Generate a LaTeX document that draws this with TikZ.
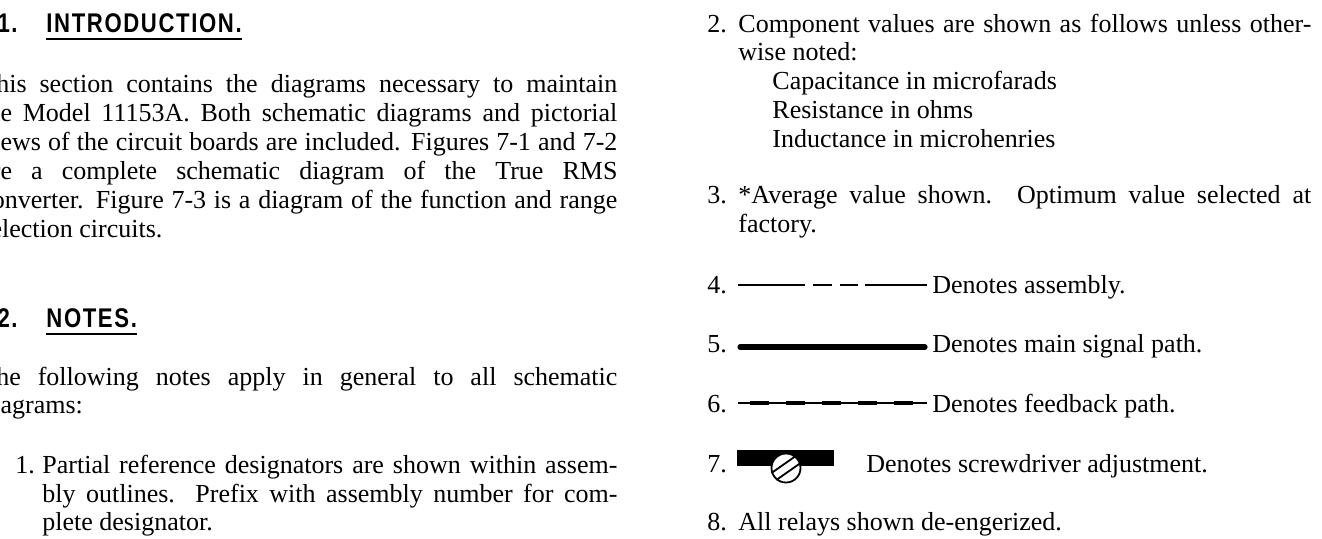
\documentclass[tikz,border=0pt]{standalone}
\usepackage{fontspec}
\setmainfont{Liberation Serif}
\newfontfamily\headfont[FakeStretch=0.82,LetterSpace=6]{Liberation Sans}
\usetikzlibrary{positioning}

\tikzstyle{txt} = [anchor=base west, inner sep=0pt, font=\fontsize{13pt}{14.5pt}\selectfont]
\tikzstyle{head} = [anchor=base west, inner sep=0pt, font=\headfont\fontsize{13.5pt}{16pt}\selectfont\bfseries]
\tikzstyle{uline} = [line width=1pt]
\tikzstyle{asmline} = [line width=1.2pt, dash pattern=on 33.5pt off 4pt on 9.5pt off 4pt on 9pt off 3.5pt on 31pt]
\tikzstyle{mainline} = [line width=2.6pt, line cap=round]
\tikzstyle{fbthin} = [line width=0.6pt]
\tikzstyle{fbdash} = [line width=1.7pt, dash pattern=on 9.5pt off 8.5pt]
\tikzstyle{screw} = [draw, circle, fill=white, line width=0.9pt, minimum size=14.5pt, inner sep=0pt]
\tikzstyle{slot} = [line width=0.9pt]
% one justified line of a paragraph
\newcommand{\jline}[2]{\makebox[#1][s]{#2}}

\begin{document}
\begin{tikzpicture}[x=0.5pt, y=-0.5pt]
\useasboundingbox (0,0) rectangle (1322,538);
\clip (0,0) rectangle (1322,538);

% Left column, first the introduction
\node [head] (introhead) at (46,32) {INTRODUCTION.};
\node [head, anchor=base east] (intronum) at (18,32) {7-1.};
\draw [uline] ([yshift=-3.5pt]introhead.base west) -- ([yshift=-3.5pt]introhead.base east);

\node [txt] (intro1) at (-20,92) {\jline{318.5pt}{This section contains the diagrams necessary to maintain}};
\node [txt] (intro2) at (-20,121) {\jline{318.5pt}{the Model 11153A. Both schematic diagrams and pictorial}};
\node [txt] (intro3) at (-20,150) {\jline{318.5pt}{views of the circuit boards are included. Figures 7-1 and 7-2}};
\node [txt] (intro4) at (-20,179) {\jline{318.5pt}{are a complete schematic diagram of the True RMS}};
\node [txt] (intro5) at (-20,208) {\jline{318.5pt}{converter. Figure 7-3 is a diagram of the function and range}};
\node [txt] (intro6) at (-20,237) {selection circuits.};

% then the notes
\node [head] (noteshead) at (46,327) {NOTES.};
\node [head, anchor=base east] (notesnum) at (18,327) {7-2.};
\draw [uline] ([yshift=-3.5pt]noteshead.base west) -- ([yshift=-3.5pt]noteshead.base east);

\node [txt] (notes1) at (-20,385) {\jline{318.5pt}{The following notes apply in general to all schematic}};
\node [txt] (notes2) at (-20,413) {diagrams:};

\node [txt] (n1) at (15,473) {1.};
\node [txt] (n1a) at (42,473) {\jline{287.5pt}{Partial reference designators are shown within assem-}};
\node [txt] (n1b) at (42,502) {\jline{287.5pt}{bly outlines. Prefix with assembly number for com-}};
\node [txt] (n1c) at (42,530) {plete designator.};

% Right column
\node [txt] (n2) at (707,32) {2.};
\node [txt] (n2a) at (738,32) {\jline{286.5pt}{Component values are shown as follows unless other-}};
\node [txt] (n2b) at (738,60) {wise noted:};
\node [txt] (cap) at (772,89) {Capacitance in microfarads};
\node [txt] (res) at (772,118) {Resistance in ohms};
\node [txt] (ind) at (772,147) {Inductance in microhenries};

\node [txt] (n3) at (707,203) {3.};
\node [txt] (n3a) at (738,203) {\jline{286.5pt}{*Average value shown. Optimum value selected at}};
\node [txt] (n3b) at (738,232) {factory.};

% The line symbols
\node [txt] (n4) at (707,293) {4.};
\coordinate (asm-a) at (738,285);
\coordinate (asm-b) at (927,285);
\draw [asmline] (asm-a) -- (asm-b);
\node [txt] (asmtext) at (932,293) {Denotes assembly.};

\node [txt] (n5) at (707,352) {5.};
\coordinate (main-a) at (740,347);
\coordinate (main-b) at (925,347);
\draw [mainline] (main-a) -- (main-b);
\node [txt] (maintext) at (932,352) {Denotes main signal path.};

\node [txt] (n6) at (707,412) {6.};
\coordinate (fb-a) at (738,403);
\coordinate (fb-b) at (927,403);
\coordinate (fbd-a) at (750,403);
\coordinate (fbd-b) at (913,403);
\draw [fbthin] (fb-a) -- (fb-b);
\draw [fbdash] (fbd-a) -- (fbd-b);
\node [txt] (fbtext) at (932,412) {Denotes feedback path.};

\node [txt] (n7) at (707,472) {7.};
\fill (737,450) rectangle (834,466);
\node [screw] (screwhead) at (786,468) {};
\draw [slot] (screwhead.199) -- (screwhead.51);
\draw [slot] (screwhead.231) -- (screwhead.19);
\node [txt] (screwtext) at (866,472) {Denotes screwdriver adjustment.};

\node [txt] (n8) at (707,530) {8.};
\node [txt] (n8a) at (738,530) {All relays shown de-engerized.};
\end{tikzpicture}
\end{document}
